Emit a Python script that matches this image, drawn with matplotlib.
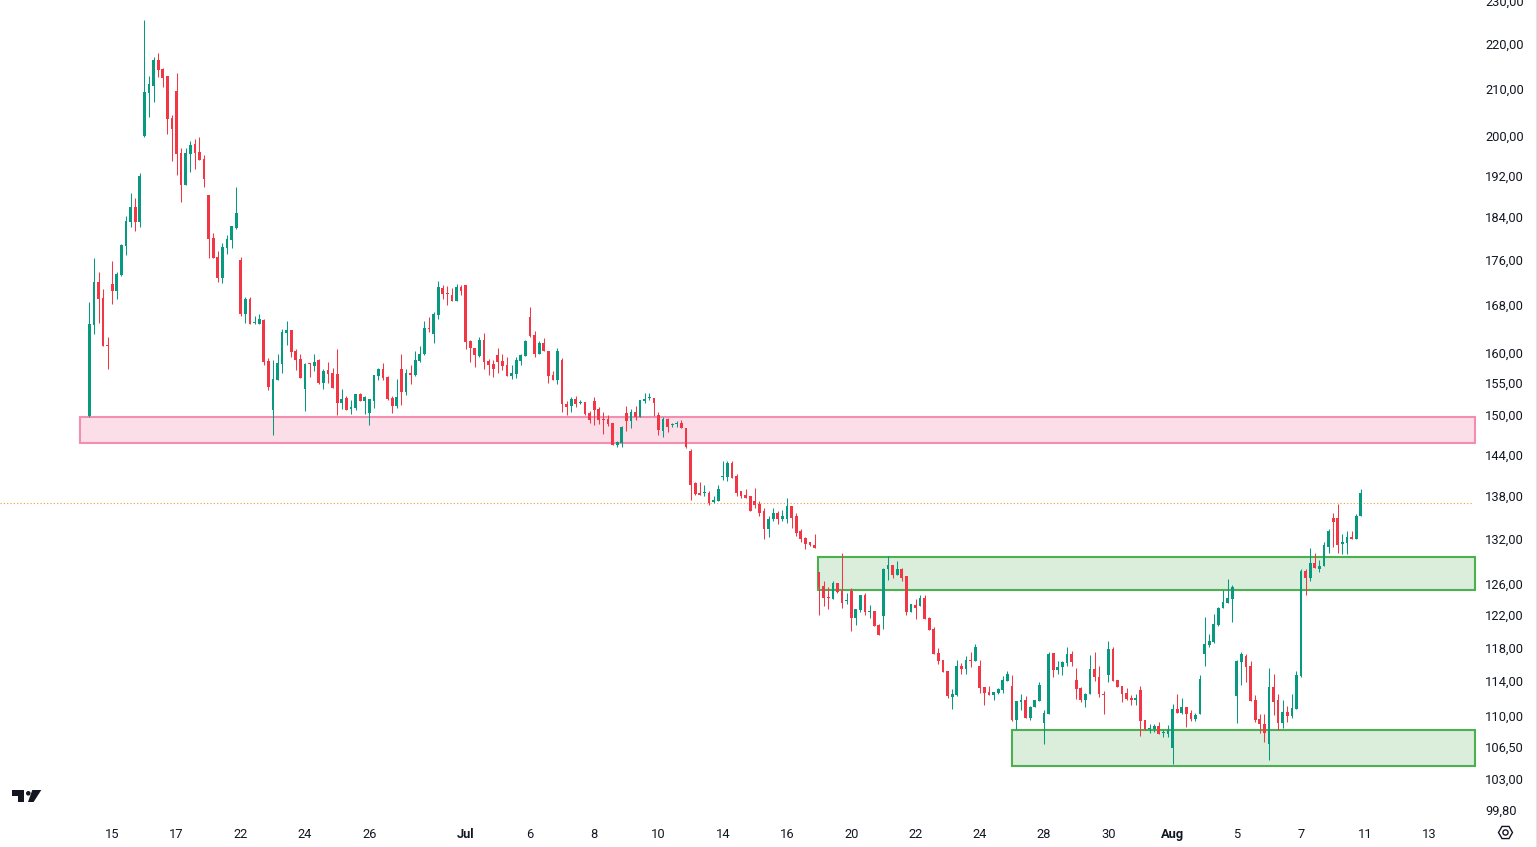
import matplotlib.pyplot as plt
import matplotlib.ticker as mticker
from matplotlib.patches import Rectangle, Polygon, Circle, RegularPolygon
from matplotlib.lines import Line2D

# hourly bars, 7 per trading day
opens = [
    149.9, 164.6, 172.1, 169.2, 161.2, 171.7, 170.5, 173.3, 178.6, 183.1,
    185.9, 183.1, 200.0, 209.2, 210.7, 216.4, 214.4, 212.9, 203.8, 209.6,
    196.5, 190.1, 196.3, 198.3, 196.7, 195.3, 188.2, 180.1, 176.6, 172.8,
    178.2, 179.7, 182.0, 176.0, 166.5, 169.1, 164.9, 164.8, 165.4, 158.6,
    150.8, 155.5, 158.1, 163.2, 163.7, 160.2, 158.9, 154.1, 158.2, 157.7,
    158.7, 155.0, 157.1, 156.6, 156.4, 151.9, 152.7, 150.9, 151.1, 153.3,
    152.2, 150.3, 152.2, 156.1, 157.3, 156.0, 152.7, 151.4, 157.3, 153.6,
    156.6, 156.3, 158.6, 159.7, 164.1, 163.0, 166.3, 171.0, 170.0, 169.8,
    168.7, 171.1, 171.5, 161.9, 160.8, 159.4, 162.0, 158.6, 158.1, 159.5,
    158.6, 157.9, 156.1, 156.4, 158.6, 159.4, 165.9, 162.9, 159.7, 161.5,
    160.3, 156.3, 155.5, 158.7, 151.7, 151.4, 152.5, 151.9, 152.0, 150.3,
    152.2, 150.9, 149.4, 149.4, 148.8, 145.4, 145.7, 150.3, 149.0, 150.5,
    149.7, 152.2, 152.6, 152.7, 150.0, 147.5, 149.4, 148.5, 148.6, 148.8,
    148.0, 144.5, 139.8, 138.4, 138.4, 138.4, 137.1, 137.3, 140.7, 140.7,
    142.8, 140.8, 138.6, 138.1, 137.9, 137.3, 136.8, 135.8, 133.4, 134.7,
    135.6, 134.7, 134.7, 136.5, 135.1, 133.1, 132.1, 131.5, 131.2, 127.6,
    125.7, 124.3, 124.1, 126.1, 125.1, 123.8, 125.1, 121.6, 122.6, 124.6,
    122.4, 122.5, 120.8, 121.9, 127.9, 128.5, 127.2, 128.0, 127.0, 122.4,
    123.3, 123.1, 124.2, 121.6, 120.3, 117.3, 116.5, 115.1, 112.1, 112.3,
    115.8, 115.4, 116.5, 116.4, 115.8, 113.3, 112.7, 112.3, 112.6, 112.9,
    114.0, 113.4, 109.5, 111.5, 111.7, 109.7, 111.0, 111.6, 109.1, 110.2,
    117.3, 115.3, 115.6, 116.1, 117.2, 114.1, 113.1, 111.8, 112.4, 115.4,
    114.5, 112.5, 114.7, 117.8, 114.1, 113.4, 112.6, 112.0, 111.7, 112.9,
    109.5, 108.5, 108.5, 108.8, 108.0, 107.9, 106.3, 110.7, 110.3, 111.0,
    110.3, 109.6, 110.1, 117.2, 118.3, 118.6, 120.7, 122.9, 123.5, 124.1,
    112.2, 116.2, 117.0, 115.7, 111.7, 109.6, 109.0, 106.8, 113.3, 111.7,
    109.1, 110.4, 109.9, 110.7, 114.6, 127.7, 126.8, 128.7, 128.0, 128.3,
    130.9, 134.9, 134.8, 131.3, 131.4, 132.3, 131.9, 135.2,
]
highs = [
    168.5, 176.4, 173.9, 170.8, 162.5, 175.8, 173.9, 179.0, 184.2, 188.6,
    187.6, 192.6, 225.5, 212.9, 217.1, 218.0, 214.7, 212.9, 204.5, 213.6,
    197.5, 197.5, 199.0, 199.4, 199.8, 196.1, 188.2, 181.0, 177.7, 179.2,
    180.6, 182.3, 189.7, 176.5, 169.4, 169.4, 166.1, 166.5, 165.6, 159.0,
    158.7, 159.7, 163.9, 165.2, 163.7, 160.5, 159.8, 158.2, 158.3, 159.7,
    158.9, 157.3, 158.4, 157.4, 160.5, 154.1, 153.0, 152.3, 153.3, 153.5,
    153.0, 152.5, 156.3, 157.4, 158.2, 156.1, 153.0, 155.6, 159.7, 157.3,
    157.9, 160.2, 161.0, 165.2, 166.0, 166.8, 172.3, 171.5, 171.3, 171.0,
    171.7, 171.5, 171.5, 162.0, 160.8, 162.5, 163.2, 158.9, 158.7, 160.8,
    159.8, 159.2, 157.9, 159.2, 159.8, 162.0, 167.7, 163.5, 161.9, 162.4,
    160.3, 156.9, 160.7, 159.0, 152.2, 152.8, 153.0, 152.3, 152.0, 150.6,
    152.8, 151.2, 150.5, 150.0, 148.8, 146.0, 148.3, 151.4, 150.9, 151.4,
    152.3, 153.5, 153.5, 152.7, 150.5, 149.7, 149.5, 148.8, 149.1, 149.2,
    148.0, 144.8, 140.0, 140.0, 139.5, 138.7, 137.9, 139.5, 143.0, 143.1,
    143.1, 141.1, 138.7, 138.9, 137.9, 139.1, 137.2, 136.3, 135.1, 136.3,
    135.8, 136.0, 137.6, 136.5, 135.6, 133.3, 132.3, 131.5, 132.7, 127.6,
    126.3, 125.6, 126.4, 126.1, 130.1, 124.8, 125.5, 122.8, 124.6, 124.8,
    123.3, 122.5, 120.9, 128.1, 129.7, 128.5, 129.0, 128.1, 127.0, 123.4,
    124.1, 124.5, 124.6, 121.8, 120.5, 117.9, 116.5, 115.1, 113.0, 116.5,
    116.1, 116.9, 117.4, 118.4, 116.5, 113.3, 113.4, 112.7, 113.2, 114.6,
    115.1, 114.7, 111.6, 112.5, 112.2, 111.1, 111.7, 113.8, 110.6, 117.4,
    117.3, 116.4, 116.3, 118.0, 117.6, 115.5, 113.3, 112.6, 117.1, 117.4,
    115.7, 112.8, 118.8, 118.0, 114.1, 113.4, 113.1, 112.3, 112.4, 113.4,
    109.5, 109.0, 109.0, 109.2, 108.4, 108.9, 111.3, 112.5, 112.0, 111.0,
    110.6, 110.3, 114.7, 121.8, 119.6, 122.1, 123.0, 125.2, 126.6, 125.9,
    116.5, 117.4, 117.2, 116.4, 112.3, 110.1, 110.1, 115.5, 114.8, 112.4,
    111.8, 111.1, 112.4, 115.1, 128.0, 128.0, 130.8, 130.1, 129.1, 131.5,
    133.3, 135.6, 136.8, 132.6, 133.0, 133.0, 135.4, 139.0,
]
lows = [
    149.7, 163.0, 164.9, 161.0, 157.3, 168.2, 169.1, 173.1, 176.9, 182.1,
    181.4, 182.1, 199.8, 204.0, 207.2, 212.7, 210.5, 200.4, 194.9, 192.2,
    186.8, 190.1, 192.8, 193.4, 195.1, 189.7, 176.4, 176.4, 172.1, 171.9,
    177.1, 178.2, 181.8, 166.1, 164.9, 164.8, 164.8, 164.8, 157.9, 153.9,
    146.9, 155.5, 156.6, 161.3, 159.2, 157.1, 155.8, 150.6, 156.0, 156.9,
    154.8, 154.1, 155.0, 154.2, 150.0, 150.9, 150.8, 150.2, 150.8, 152.2,
    150.2, 148.5, 151.1, 155.5, 155.5, 152.3, 150.3, 151.1, 151.5, 153.1,
    154.8, 156.1, 158.4, 159.5, 163.4, 161.6, 165.6, 169.1, 168.0, 168.7,
    168.7, 169.8, 160.5, 158.4, 157.6, 159.2, 157.3, 156.3, 156.0, 156.6,
    157.1, 156.1, 155.6, 155.8, 157.9, 159.4, 162.5, 159.2, 159.7, 160.2,
    155.0, 155.5, 154.8, 150.5, 150.0, 150.5, 151.2, 151.7, 150.0, 148.7,
    148.5, 148.6, 147.1, 148.3, 145.4, 145.1, 145.1, 147.5, 148.0, 149.2,
    149.7, 151.9, 152.4, 149.8, 146.9, 146.6, 147.4, 148.2, 148.2, 148.0,
    144.9, 137.4, 138.1, 138.1, 138.0, 136.7, 136.9, 137.3, 140.2, 140.1,
    140.6, 138.0, 137.7, 137.7, 135.8, 136.3, 135.1, 132.0, 132.3, 134.4,
    134.0, 134.4, 134.2, 133.5, 132.4, 131.6, 130.6, 131.0, 130.8, 122.0,
    123.1, 122.8, 124.0, 124.8, 122.9, 123.4, 120.0, 120.8, 122.4, 122.0,
    121.6, 120.6, 119.5, 120.3, 126.5, 126.8, 127.2, 126.4, 122.0, 122.4,
    121.5, 123.1, 121.5, 120.1, 117.2, 116.0, 115.0, 112.0, 110.7, 112.2,
    114.8, 114.8, 115.6, 116.4, 112.6, 111.2, 112.3, 111.7, 112.5, 112.6,
    114.0, 109.4, 108.5, 110.6, 109.7, 109.5, 110.9, 111.6, 106.8, 110.1,
    114.4, 114.8, 114.7, 115.8, 115.7, 111.9, 111.5, 110.9, 112.4, 114.0,
    112.1, 110.2, 113.9, 114.0, 113.3, 111.5, 111.8, 111.2, 111.2, 107.7,
    108.4, 108.0, 108.1, 107.9, 107.6, 107.6, 104.6, 110.3, 110.2, 108.7,
    109.4, 109.4, 110.1, 115.7, 118.0, 118.5, 120.6, 122.9, 123.5, 121.1,
    109.1, 113.5, 113.9, 111.6, 109.2, 108.0, 107.0, 105.0, 110.0, 108.4,
    108.6, 109.2, 109.7, 110.7, 114.4, 124.5, 126.4, 128.1, 127.5, 128.3,
    130.1, 130.9, 130.1, 130.0, 130.0, 131.9, 131.9, 135.1,
]
closes = [
    164.8, 172.1, 169.1, 161.0, 161.0, 170.5, 173.5, 178.8, 183.3, 185.9,
    183.1, 192.0, 209.4, 211.1, 216.4, 214.2, 212.5, 203.6, 201.5, 196.3,
    190.1, 196.5, 198.1, 196.5, 195.1, 191.4, 179.9, 176.4, 172.8, 178.4,
    179.9, 182.3, 184.8, 166.5, 169.1, 164.8, 165.0, 165.6, 158.4, 154.4,
    155.6, 158.2, 163.4, 163.7, 160.0, 158.7, 155.8, 158.1, 158.1, 158.5,
    155.0, 156.9, 156.4, 154.2, 151.9, 152.5, 150.8, 151.2, 153.3, 152.2,
    152.8, 152.5, 156.3, 157.3, 155.8, 152.5, 151.4, 152.8, 153.6, 156.6,
    156.3, 158.7, 159.8, 164.1, 163.9, 166.5, 171.1, 169.9, 169.9, 168.7,
    171.1, 170.4, 161.7, 160.7, 159.5, 162.0, 158.4, 157.9, 157.3, 158.4,
    157.7, 156.1, 156.6, 158.7, 159.5, 161.9, 162.7, 159.7, 161.5, 160.2,
    156.1, 155.5, 160.3, 151.7, 151.2, 152.5, 151.7, 152.0, 150.2, 149.2,
    150.8, 149.2, 149.2, 148.6, 145.4, 145.8, 148.2, 149.0, 150.5, 149.7,
    152.3, 152.5, 152.7, 151.9, 147.7, 149.4, 148.2, 148.6, 148.8, 148.0,
    145.1, 139.6, 138.3, 138.1, 138.5, 137.0, 137.4, 139.0, 140.8, 142.8,
    140.6, 138.4, 138.0, 137.7, 135.8, 136.7, 135.6, 133.4, 134.7, 135.5,
    134.7, 135.1, 136.6, 134.9, 132.8, 132.0, 131.3, 131.2, 130.8, 125.6,
    124.2, 124.2, 126.1, 125.0, 123.5, 123.9, 121.6, 122.8, 124.6, 122.4,
    122.5, 120.6, 119.5, 128.0, 128.5, 127.2, 128.0, 126.8, 122.4, 123.4,
    122.9, 124.2, 121.5, 120.1, 117.2, 116.3, 115.0, 112.2, 112.4, 115.8,
    115.4, 116.5, 116.4, 118.1, 113.2, 112.6, 112.3, 112.7, 113.0, 114.1,
    114.8, 109.5, 111.6, 111.7, 109.7, 111.0, 111.7, 113.5, 110.3, 117.2,
    115.3, 115.6, 116.2, 117.2, 116.2, 113.0, 111.8, 112.5, 115.4, 114.4,
    112.5, 112.3, 117.8, 114.0, 113.3, 112.5, 111.9, 111.7, 112.0, 109.4,
    108.5, 108.6, 108.8, 107.9, 108.1, 108.4, 110.7, 110.3, 111.0, 110.2,
    109.6, 110.0, 114.2, 118.4, 118.8, 120.9, 122.9, 123.6, 124.2, 125.6,
    116.3, 117.2, 115.6, 111.6, 109.5, 109.0, 108.0, 113.3, 111.5, 109.1,
    110.4, 109.9, 110.8, 114.7, 127.7, 126.7, 128.7, 128.1, 128.4, 131.1,
    133.0, 134.3, 131.2, 131.5, 132.3, 131.9, 135.2, 138.4,
]

price_ticks = [230, 220, 210, 200, 192, 184, 176, 168, 160, 155, 150, 144,
               138, 132, 126, 122, 118, 114, 110, 106.5, 103, 99.8]
date_ticks = [5, 19, 33, 47, 61, 82, 96, 110, 124, 138, 152, 166, 180, 194,
              208, 222, 236, 250, 264, 278, 292]
date_labels = ["15", "17", "22", "24", "26", "Jul", "6", "8", "10", "14", "16",
               "20", "22", "24", "28", "30", "Aug", "5", "7", "11", "13"]

# zones: (left bar, bottom price, top price)
supply_zone = (-2.0, 145.7, 149.7)
demand_zones = [(158.8, 125.2, 129.5), (201.0, 104.4, 108.35)]
prev_close = 136.9

UP = "#089981"
DOWN = "#F23645"
TEXT = "#131722"

W, H = 1537, 847
dpi = 100
fig = plt.figure(figsize=(W / dpi, H / dpi), dpi=dpi)
plt.rcParams["font.family"] = ["Roboto", "DejaVu Sans"]

pane_w, pane_h, bottom_h = 1477, 818, 29
ax = fig.add_axes([0, bottom_h / H, pane_w / W, pane_h / H])
ax.set_yscale("log")
x_left, x_right = -19.46, 302.33
ax.set_xlim(x_left, x_right)
ax.set_ylim(98.94, 230.2)

# zones
zone_right = 301.9
x0, lo, hi = supply_zone
ax.add_patch(Rectangle((x0, lo), zone_right - x0, hi - lo, facecolor="#fcdee8",
                       edgecolor="#f28fb1", linewidth=1.5, zorder=1))
for x0, lo, hi in demand_zones:
    ax.add_patch(Rectangle((x0, lo), zone_right - x0, hi - lo, facecolor="#daeedb",
                           edgecolor="#4caf50", linewidth=1.5, zorder=1))

# previous close line
ax.axhline(prev_close, xmin=0, xmax=1473 / pane_w, color="#ef9a2f",
           linestyle=(0, (1, 2)), linewidth=0.8, zorder=2)

# candles
xs = list(range(len(closes)))
colors = [UP if c >= o else DOWN for o, c in zip(opens, closes)]
ax.vlines(xs, lows, highs, colors=colors, linewidth=0.75, zorder=3)
bottoms = [min(o, c) for o, c in zip(opens, closes)]
heights = [max(abs(c - o), 0.0011 * c) for o, c in zip(opens, closes)]
ax.bar(xs, heights, bottom=bottoms, width=0.6, color=colors, linewidth=0, zorder=4)

# axes styling
for s in ax.spines.values():
    s.set_visible(False)
ax.yaxis.tick_right()
ax.yaxis.set_minor_locator(mticker.NullLocator())
ax.set_yticks(price_ticks)
ax.set_yticklabels([f"{p:.2f}".replace(".", ",") for p in price_ticks])
ax.tick_params(axis="y", length=0, pad=5.8, labelsize=9.3, labelcolor=TEXT)
ax.set_xticks(date_ticks)
ax.set_xticklabels(date_labels)
ax.tick_params(axis="x", length=0, pad=7.5, labelsize=9.3, labelcolor=TEXT)
for lbl in ax.get_xticklabels():
    if lbl.get_text() in ("Jul", "Aug"):
        lbl.set_fontweight("bold")

# right border of the price scale
fig.add_artist(Line2D([1535.5 / W] * 2, [0, 1], color="#e0e3eb", linewidth=0.8))

# TradingView logo (pixel coords, origin bottom-left)
logo = dict(facecolor=TEXT, edgecolor="none", transform=None)
fig.add_artist(Rectangle((12, H - 796), 12, 6, **logo))
fig.add_artist(Rectangle((18, H - 802), 6, 12, **logo))
fig.add_artist(Circle((28.3, H - 793.3), 2.3, **logo))
fig.add_artist(Polygon([(32.3, H - 790), (41.3, H - 790), (33.6, H - 802), (28.0, H - 802)], **logo))

# settings icon
fig.add_artist(RegularPolygon((1505.5, H - 832.5), 6, radius=7, orientation=3.14159 / 6,
                              facecolor="none", edgecolor=TEXT, linewidth=1.0, transform=None))
fig.add_artist(Circle((1505.5, H - 832.5), 2.6, facecolor="none", edgecolor=TEXT,
                      linewidth=1.0, transform=None))

fig.savefig("out.png", dpi=dpi)
